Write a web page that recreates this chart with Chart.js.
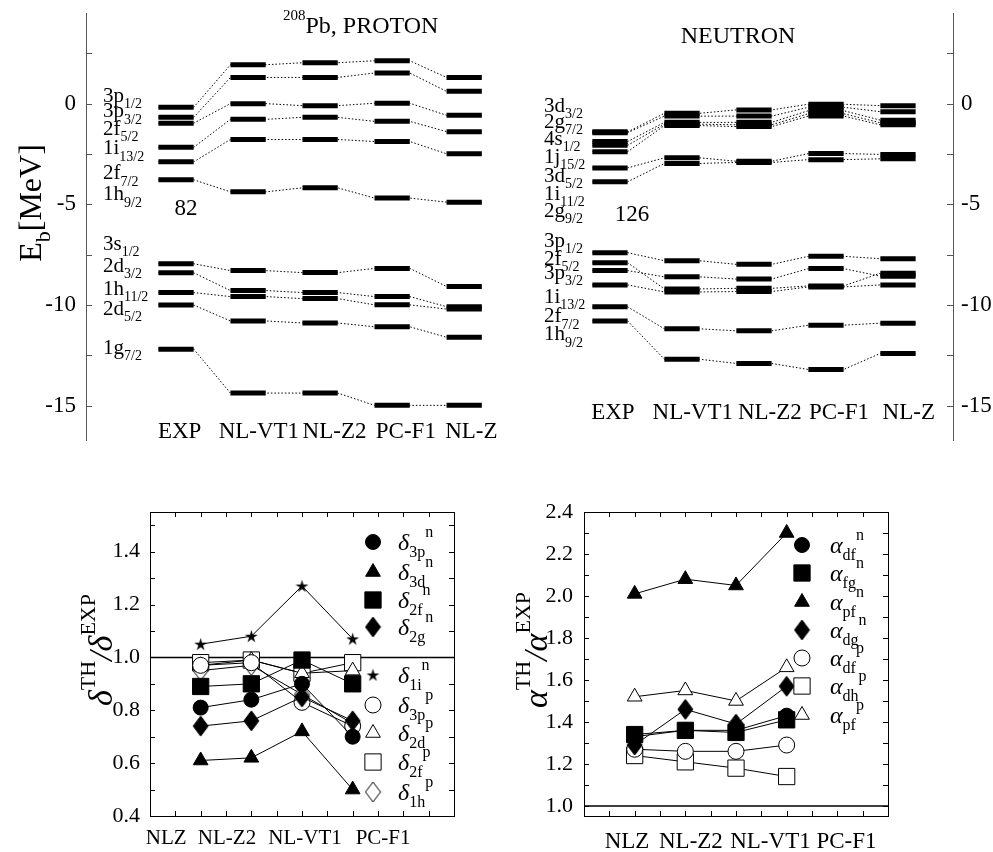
<!DOCTYPE html>
<html>
<head>
<meta charset="utf-8">
<script src="https://cdn.jsdelivr.net/npm/chart.js@4.4.1/dist/chart.umd.min.js"></script>
<style>
  body { margin: 0; background: #fff; width: 993px; height: 852px; position: relative; overflow: hidden; }
  canvas { position: absolute; }
</style>
</head>
<body>
<canvas id="proton" width="500" height="460" style="left:0px;top:0px"></canvas>
<canvas id="neutron" width="493" height="460" style="left:500px;top:0px"></canvas>
<canvas id="delta" width="500" height="392" style="left:0px;top:460px"></canvas>
<canvas id="alpha" width="493" height="392" style="left:500px;top:460px"></canvas>
<script>
const SERIF = '"Liberation Serif", "Times New Roman", serif';

// ---- single-particle levels of 208Pb (MeV) ----
const models = ['EXP', 'NL-VT1', 'NL-Z2', 'PC-F1', 'NL-Z'];

const protonStates = ['3p_{1/2}', '3p_{3/2}', '2f_{5/2}', '1i_{13/2}', '2f_{7/2}', '1h_{9/2}',
                      '3s_{1/2}', '2d_{3/2}', '1h_{11/2}', '2d_{5/2}', '1g_{7/2}'];
const protonExp   = [-0.18, -0.68, -0.97, -2.17, -2.89, -3.78, -7.95, -8.40, -9.38, -10.00, -12.19];
const protonNLVT1 = [1.93, 1.30, 0.00, -0.78, -1.78, -4.38, -8.29, -9.28, -9.58, -10.79, -14.37];
const protonNLZ2  = [2.03, 1.30, -0.10, -0.68, -1.78, -4.18, -8.39, -9.38, -9.68, -10.89, -14.37];
const protonPCF1  = [2.13, 1.52, 0.02, -0.88, -1.88, -4.69, -8.18, -9.58, -9.99, -11.08, -14.98];
const protonNLZ   = [1.30, 0.61, -0.58, -1.39, -2.49, -4.89, -9.08, -10.08, -10.20, -11.60, -14.98];

const neutronStates = ['3d_{3/2}', '2g_{7/2}', '4s_{1/2}', '1j_{15/2}', '3d_{5/2}', '1i_{11/2}', '2g_{9/2}',
                       '3p_{1/2}', '2f_{5/2}', '3p_{3/2}', '1i_{13/2}', '2f_{7/2}', '1h_{9/2}'];
const neutronExp   = [-1.40, -1.44, -1.88, -2.07, -2.39, -3.19, -3.88, -7.40, -7.90, -8.29, -9.00, -10.09, -10.79];
const neutronNLVT1 = [-0.48, -0.62, -0.93, -1.02, -1.09, -2.69, -2.97, -7.80, -9.20, -8.60, -9.35, -11.18, -12.69];
const neutronNLZ2  = [-0.31, -0.62, -0.93, -1.05, -1.14, -2.86, -2.92, -7.98, -9.17, -8.71, -9.33, -11.28, -12.90];
const neutronPCF1  = [-0.03, -0.18, -0.35, -0.50, -0.62, -2.48, -2.78, -7.58, -9.05, -8.19, -9.10, -11.00, -13.20];
const neutronNLZ   = [-0.10, -0.40, -0.82, -0.95, -1.05, -2.52, -2.74, -7.70, -8.42, -8.57, -9.00, -10.90, -12.40];

// ---- ratios theory / experiment ----
const ratioModels = ['NLZ', 'NL-Z2', 'NL-VT1', 'PC-F1'];

const delta3pN = [0.81, 0.84, 0.90, 0.70];
const delta3dN = [0.61, 0.62, 0.72, 0.50];
const delta2fN = [0.89, 0.90, 0.99, 0.90];
const delta2gN = [0.74, 0.76, 0.85, 0.76];
const delta1iN = [1.05, 1.08, 1.27, 1.07];
const delta3pP = [0.97, 0.98, 0.83, 0.74];
const delta2dP = [0.97, 0.99, 0.94, 0.95];
const delta2fP = [0.98, 0.99, 0.94, 0.98];
const delta1hP = [0.95, 0.97, 0.86, 0.75];
const deltaNames = ['δ_{3p}^{n}', 'δ_{3d}^{n}', 'δ_{2f}^{n}', 'δ_{2g}^{n}', 'δ_{1i}^{n}',
                    'δ_{3p}^{p}', 'δ_{2d}^{p}', 'δ_{2f}^{p}', 'δ_{1h}^{p}'];

const alphaDfN = [1.33, 1.36, 1.36, 1.43];
const alphaFgN = [1.34, 1.36, 1.35, 1.41];
const alphaPfN = [2.01, 2.08, 2.05, 2.30];
const alphaDgN = [1.29, 1.46, 1.39, 1.57];
const alphaDfP = [1.27, 1.26, 1.26, 1.29];
const alphaDhP = [1.24, 1.21, 1.18, 1.14];
const alphaPfP = [1.52, 1.55, 1.50, 1.66];
const alphaNames = ['α_{df}^{n}', 'α_{fg}^{n}', 'α_{pf}^{n}', 'α_{dg}^{n}', 'α_{df}^{p}', 'α_{dh}^{p}', 'α_{pf}^{p}'];

const unity = 1.0;

// ---- markers ----
function makeDiamond(filled) {
  const c = document.createElement('canvas');
  c.width = 17; c.height = 22;
  const g = c.getContext('2d');
  g.beginPath();
  g.moveTo(8.5, 1); g.lineTo(16, 11); g.lineTo(8.5, 21); g.lineTo(1, 11); g.closePath();
  g.fillStyle = filled ? '#000' : '#fff';
  g.fill();
  g.strokeStyle = '#000'; g.lineWidth = 1; g.stroke();
  return c;
}
function makeStar() {
  const c = document.createElement('canvas');
  c.width = 15; c.height = 15;
  const g = c.getContext('2d');
  g.beginPath();
  for (let i = 0; i < 10; i++) {
    const r = i % 2 ? 2.4 : 6.8, a = -Math.PI / 2 + i * Math.PI / 5;
    g.lineTo(7.5 + r * Math.cos(a), 8 + r * Math.sin(a));
  }
  g.closePath(); g.fillStyle = '#000'; g.fill();
  return c;
}
const M = {
  circleF: { style: 'circle', fill: true, r: 7.5 },
  circleO: { style: 'circle', fill: false, r: 8 },
  triF: { style: 'triangle', fill: true, r: 8.5 },
  triO: { style: 'triangle', fill: false, r: 8.5 },
  rectF: { style: 'rect', fill: true, r: 11.5 },
  rectO: { style: 'rect', fill: false, r: 11.5 },
  diaF: { style: makeDiamond(true), r: 9 },
  diaO: { style: makeDiamond(false), r: 9 },
  star: { style: makeStar(), r: 6 }
};

// ---- rich text (sub/superscripts) ----
function parseRich(str) {
  const parts = [];
  let i = 0;
  while (i < str.length) {
    if ((str[i] === '_' || str[i] === '^') && str[i + 1] === '{') {
      const j = str.indexOf('}', i);
      parts.push({ t: str.slice(i + 2, j), k: str[i] === '_' ? 'sub' : 'sup' });
      i = j + 1;
    } else {
      let j = i;
      while (j < str.length && !((str[j] === '_' || str[j] === '^') && str[j + 1] === '{')) j++;
      parts.push({ t: str.slice(i, j), k: 'base' });
      i = j;
    }
  }
  return parts;
}
function drawRich(ctx, str, x, y, o) {
  const size = o.size, small = o.small || Math.round(size * 0.68);
  const parts = parseRich(str);
  const fontFor = p => (p.k === 'base' && /[δα]/.test(p.t) ? 'italic ' : '') +
    (p.k === 'base' ? size : small) + 'px ' + SERIF;
  ctx.save();
  ctx.translate(x, y);
  if (o.rotate) ctx.rotate(o.rotate);
  let w = 0;
  parts.forEach(p => { ctx.font = fontFor(p); p.w = ctx.measureText(p.t).width; w += p.w; });
  let cx = o.align === 'center' ? -w / 2 : o.align === 'right' ? -w : 0;
  ctx.fillStyle = '#000';
  ctx.textAlign = 'left';
  ctx.textBaseline = 'alphabetic';
  const base = size * 0.34;
  parts.forEach(p => {
    ctx.font = fontFor(p);
    const dy = p.k === 'sub' ? size * (o.subDy || 0.28) : p.k === 'sup' ? -size * (o.supDy || 0.45) : 0;
    ctx.fillText(p.t, cx, base + dy);
    cx += p.w;
  });
  ctx.restore();
}
function drawMarker(ctx, m, x, y) {
  if (typeof m.style !== 'string') {
    ctx.drawImage(m.style, x - m.style.width / 2, y - m.style.height / 2);
    return;
  }
  const r = m.r;
  ctx.beginPath();
  if (m.style === 'circle') ctx.arc(x, y, r, 0, Math.PI * 2);
  else if (m.style === 'rect') { const s = r * Math.SQRT1_2; ctx.rect(x - s, y - s, 2 * s, 2 * s); }
  else { ctx.moveTo(x, y - r); ctx.lineTo(x + 0.866 * r, y + 0.5 * r); ctx.lineTo(x - 0.866 * r, y + 0.5 * r); ctx.closePath(); }
  ctx.fillStyle = m.fill ? '#000' : '#fff';
  ctx.fill();
  ctx.strokeStyle = '#000'; ctx.lineWidth = 1; ctx.stroke();
}

Chart.defaults.font.family = SERIF;
Chart.defaults.color = '#000';

// fixed axis size, no extra room for half labels at the ends
function fixAxis(width) {
  return s => { s.width = width; s.paddingTop = 0; s.paddingBottom = 0; };
}

// ---- level schemes ----
const BAR_HALF = 0.245;
const levelTicks = [];
for (let v = -15; v <= 2.5; v += 2.5) levelTicks.push(v);

function levelDatasets(columns) {
  const sets = [];
  for (let k = 0; k < columns[0].length; k++) {
    const pts = [];
    columns.forEach((col, m) => { pts.push({ x: m - BAR_HALF, y: col[k] }, { x: m + BAR_HALF, y: col[k] }); });
    sets.push({ data: pts, showLine: true, borderColor: '#000', borderWidth: 1, borderDash: [1.5, 2],
      pointRadius: 0, order: 2 });
    sets.push({ data: pts, showLine: true, borderWidth: 5, pointRadius: 0, order: 1,
      borderColor: '#000',
      segment: { borderColor: c => (c.p0DataIndex % 2 === 0 ? '#000' : 'rgba(0,0,0,0)') } });
  }
  return sets;
}

function levelChart(id, columns, cfg) {
  new Chart(document.getElementById(id), {
    type: 'scatter',
    data: { datasets: levelDatasets(columns) },
    options: {
      responsive: false, animation: false, events: [],
      layout: { padding: cfg.padding },
      plugins: { legend: { display: false }, tooltip: { enabled: false } },
      scales: {
        x: { type: 'linear', display: false, min: cfg.xMin, max: cfg.xMax },
        y: {
          position: cfg.side, min: -16.7, max: 4.5,
          afterFit: fixAxis(cfg.axisWidth),
          afterBuildTicks: s => { s.ticks = levelTicks.map(v => ({ value: v })); },
          ticks: { font: { size: 23 }, padding: cfg.tickPad, autoSkip: false,
                   callback: v => (v % 5 === 0 ? String(v) : '') },
          grid: { display: false, drawTicks: false },
          border: { display: true, color: '#555', width: 1 }
        }
      }
    },
    plugins: [{
      id: 'levelDecor',
      afterDraw(chart) {
        const { ctx, chartArea: a, scales: { x, y } } = chart;
        ctx.save();
        ctx.strokeStyle = '#555'; ctx.lineWidth = 1;
        const ax = cfg.side === 'left' ? a.left : a.right, dir = cfg.side === 'left' ? 1 : -1;
        levelTicks.forEach(v => {
          const py = Math.round(y.getPixelForValue(v)) + 0.5;
          ctx.beginPath(); ctx.moveTo(ax, py); ctx.lineTo(ax + dir * 6, py); ctx.stroke();
        });
        ctx.restore();
        cfg.states.forEach((s, i) =>
          drawRich(ctx, s, cfg.stateX, y.getPixelForValue(cfg.stateY[i]), { size: 21, small: 14, subDy: 0.3 }));
        models.forEach((m, i) =>
          drawRich(ctx, m, x.getPixelForValue(i + cfg.nameShift[i]), cfg.nameY, { size: 23, align: 'center' }));
        cfg.texts.forEach(t => drawRich(ctx, t.s, t.x, t.y, t.o));
      }
    }]
  });
}

levelChart('proton', [protonExp, protonNLVT1, protonNLZ2, protonPCF1, protonNLZ], {
  side: 'left', axisWidth: 86, tickPad: 10,
  padding: { left: 0, right: 7, top: 13, bottom: 20 },
  xMin: -1.25, xMax: 4.40,
  states: protonStates,
  stateX: 103,
  stateY: [0.43, -0.32, -1.21, -2.16, -3.40, -4.44, -6.92, -8.00, -9.15, -10.14, -12.08],
  nameShift: [0.05, 0.15, 0.2, 0.19, 0.1],
  nameY: 430,
  texts: [
    { s: '^{208}Pb, PROTON', x: 283, y: 25, o: { size: 24, small: 15, supDy: 0.55 } },
    { s: '82', x: 186, y: 207, o: { size: 23, align: 'center' } },
    { s: 'E_{b}[MeV]', x: 30, y: 203, o: { size: 32, small: 22, align: 'center', rotate: -Math.PI / 2 } }
  ]
});

levelChart('neutron', [neutronExp, neutronNLVT1, neutronNLZ2, neutronPCF1, neutronNLZ], {
  side: 'right', axisWidth: 40, tickPad: 8,
  padding: { left: 30, right: 0, top: 13, bottom: 20 },
  xMin: -1.111, xMax: 4.764,
  states: neutronStates,
  stateX: 44,
  stateY: [-0.05, -0.84, -1.70, -2.60, -3.52, -4.42, -5.26, -6.75, -7.65, -8.36, -9.53, -10.50, -11.40],
  nameShift: [0.04, 0.15, 0.22, 0.18, 0.15],
  nameY: 411,
  texts: [
    { s: 'NEUTRON', x: 238, y: 35, o: { size: 24, align: 'center' } },
    { s: '126', x: 132, y: 213, o: { size: 23, align: 'center' } }
  ]
});

// ---- ratio panels ----
function ratioChart(id, series, markers, names, cfg) {
  const datasets = series.map((vals, i) => ({
    data: vals.map((v, j) => ({ x: j + 1, y: v })),
    showLine: true, borderColor: '#000', borderWidth: 1,
    pointStyle: markers[i].style, pointRadius: markers[i].r,
    pointBackgroundColor: markers[i].fill ? '#000' : '#fff',
    pointBorderColor: '#000', pointBorderWidth: 1
  }));
  datasets.push({ data: [{ x: 0, y: unity }, { x: 6, y: unity }], showLine: true,
    borderColor: '#000', borderWidth: 1.5, pointRadius: 0 });
  new Chart(document.getElementById(id), {
    type: 'scatter',
    data: { datasets },
    options: {
      responsive: false, animation: false, events: [],
      layout: { padding: cfg.padding },
      plugins: { legend: { display: false }, tooltip: { enabled: false } },
      scales: {
        x: { type: 'linear', display: false, min: 0, max: 6 },
        y: {
          min: cfg.yMin, max: cfg.yMax,
          afterFit: fixAxis(cfg.axisWidth),
          afterBuildTicks: s => { s.ticks = cfg.labelTicks.map(v => ({ value: v })); },
          ticks: { font: { size: 22 }, padding: cfg.tickPad, autoSkip: false, callback: v => v.toFixed(1) },
          grid: { display: false, drawTicks: false },
          border: { display: false }
        }
      }
    },
    plugins: [{
      id: 'ratioDecor',
      afterDraw(chart) {
        const { ctx, chartArea: a, scales: { x, y } } = chart;
        ctx.save();
        ctx.strokeStyle = '#000'; ctx.lineWidth = 1;
        ctx.strokeRect(Math.round(a.left) + 0.5, Math.round(a.top) + 0.5,
          Math.round(a.right - a.left), Math.round(a.bottom - a.top));
        ctx.beginPath();
        for (let v = cfg.yMinor0; v < cfg.yMax - 1e-6; v += 0.1) {
          const py = Math.round(y.getPixelForValue(v)) + 0.5;
          ctx.moveTo(a.left, py); ctx.lineTo(a.left + 5, py);
          ctx.moveTo(a.right, py); ctx.lineTo(a.right - 5, py);
        }
        for (let v = 0.5; v < 6; v += 0.5) {
          const px = Math.round(x.getPixelForValue(v)) + 0.5;
          ctx.moveTo(px, a.bottom); ctx.lineTo(px, a.bottom - 5);
          ctx.moveTo(px, a.top); ctx.lineTo(px, a.top + 5);
        }
        ctx.stroke();
        ctx.restore();
        ratioModels.forEach((m, i) =>
          drawRich(ctx, m, x.getPixelForValue(cfg.nameX[i]), cfg.nameY, { size: cfg.nameSize, align: 'center' }));
        names.forEach((n, i) => {
          drawMarker(ctx, markers[i], cfg.legendMarkX, cfg.legendY[i]);
          drawRich(ctx, n, cfg.legendTextX, cfg.legendY[i], { size: 24, small: 16, subDy: 0.3, supDy: 0.55 });
        });
        drawRich(ctx, cfg.title, cfg.titleX, cfg.titleY,
          { size: 34, small: 22, align: 'center', rotate: -Math.PI / 2, supDy: 0.5 });
      }
    }]
  });
}

ratioChart('delta',
  [delta3pN, delta3dN, delta2fN, delta2gN, delta1iN, delta3pP, delta2dP, delta2fP, delta1hP],
  [M.circleF, M.triF, M.rectF, M.diaF, M.star, M.circleO, M.triO, M.rectO, M.diaO],
  deltaNames, {
    padding: { left: 0, right: 46, top: 52, bottom: 36 },
    axisWidth: 150, tickPad: 10,
    yMin: 0.4, yMax: 1.55, yMinor0: 0.5,
    labelTicks: [0.4, 0.6, 0.8, 1.0, 1.2, 1.4],
    nameX: [0.32, 1.52, 3.06, 4.6], nameY: 377, nameSize: 21,
    legendMarkX: 373, legendTextX: 398,
    legendY: [82, 112, 140, 167, 215, 245, 273, 302, 332],
    title: 'δ^{TH}/δ^{EXP}', titleX: 100, titleY: 190
  });

ratioChart('alpha',
  [alphaDfN, alphaFgN, alphaPfN, alphaDgN, alphaDfP, alphaDhP, alphaPfP],
  [M.circleF, M.rectF, M.triF, M.diaF, M.circleO, M.rectO, M.triO],
  alphaNames, {
    padding: { left: 0, right: 105, top: 52, bottom: 36 },
    axisWidth: 84, tickPad: 11,
    yMin: 0.952, yMax: 2.4, yMinor0: 1.0,
    labelTicks: [1.0, 1.2, 1.4, 1.6, 1.8, 2.0, 2.2, 2.4],
    nameX: [0.85, 2.11, 3.68, 5.18], nameY: 380, nameSize: 23,
    legendMarkX: 302, legendTextX: 330,
    legendY: [85, 113, 142, 170, 198, 226, 255],
    title: 'α^{TH}/α^{EXP}', titleX: 35, titleY: 190
  });
</script>
</body>
</html>
